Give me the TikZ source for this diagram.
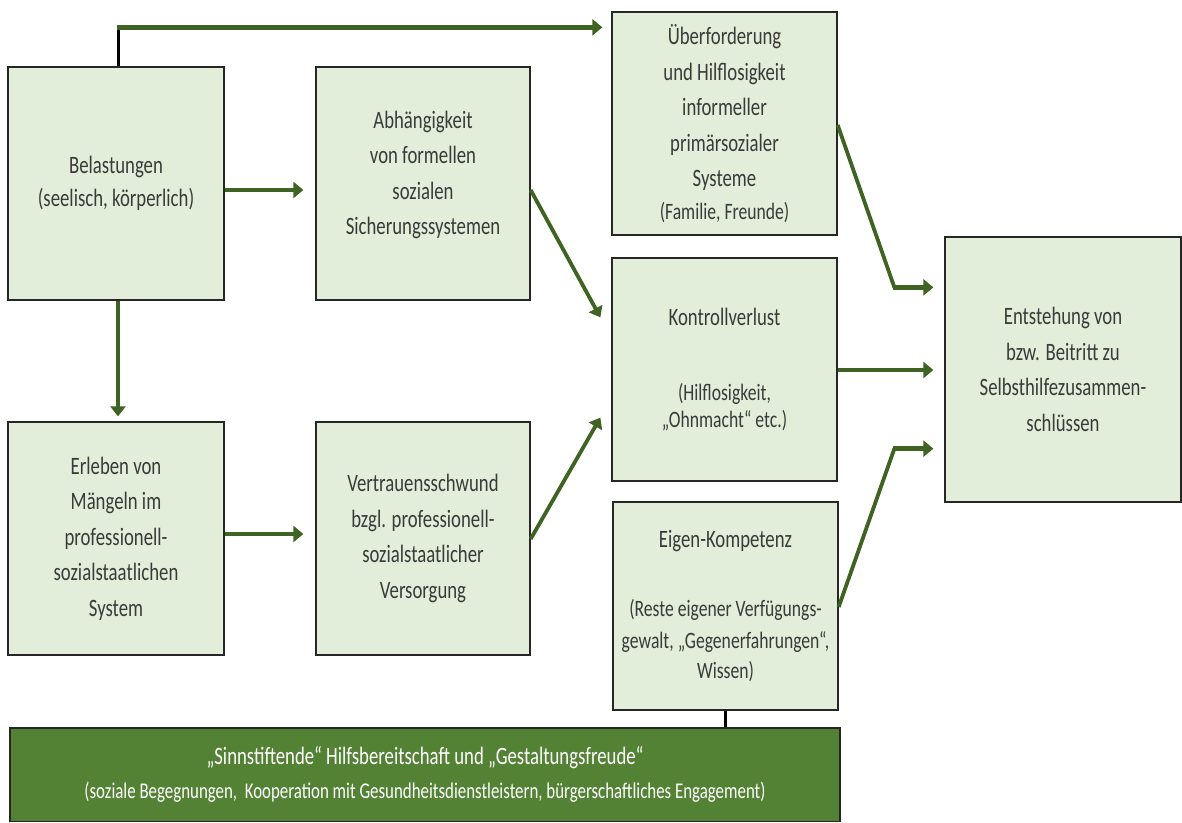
\documentclass[tikz,border=0pt]{standalone}
\usepackage{fontspec}
\setmainfont{Carlito}[FakeStretch=0.75]
\usetikzlibrary{arrows.meta,calc}
\definecolor{boxfill}{HTML}{E2EED9}
\definecolor{arrgreen}{HTML}{3F6322}
\definecolor{barfill}{HTML}{548235}
\definecolor{txt}{HTML}{3A3A3A}
\newcommand{\smf}{\fontsize{23.5}{28}\selectfont}
\tikzset{
  box/.style={draw=black!85, line width=1.3pt, fill=boxfill, text=txt, align=center,
    inner sep=0pt, font=\fontsize{25}{35.5}\selectfont},
  bar/.style={draw=black!85, line width=1.3pt, fill=barfill, text=white, align=center,
    inner sep=0pt, font=\fontsize{25}{35}\selectfont},
  arr/.style={draw=arrgreen, line width=4.5pt, -{Triangle[length=10pt,width=16pt]}},
  thinarr/.style={draw=arrgreen, line width=3.8pt, -{Triangle[length=10pt,width=15pt]}},
  seg/.style={draw=arrgreen, line width=3.8pt},
  blk/.style={draw=black, line width=3pt},
}
\begin{document}
\begin{tikzpicture}[x=1pt,y=-1pt]
\useasboundingbox (0,0) rectangle (1182,822);

\node[box, minimum width=216, minimum height=233] (bel) at (116,183.5)
  {Belastungen\\[-2pt](seelisch, körperlich)};
\node[box, minimum width=214, minimum height=233] (abh) at (423,183.5)
  {Abhängigkeit\\von formellen\\sozialen\\Sicherungssystemen\\[-14pt]~};
\node[box, minimum width=225, minimum height=223] (uf) at (724.5,123.5)
  {Überforderung\\und Hilflosigkeit\\informeller\\primärsozialer\\Systeme\\[-3pt]{\smf (Familie, Freunde)}};
\node[box, minimum width=225, minimum height=223] (kv) at (724.5,369.5)
  {Kontrollverlust\\[40pt]{\smf (Hilflosigkeit,}\\[-9pt]{\smf „Ohnmacht“ etc.)}};
\node[box, minimum width=225, minimum height=208] (ek) at (725.5,606)
  {Eigen-Kompetenz\\[34pt]{\smf (Reste eigener Verfügungs-}\\[-4pt]{\smf gewalt, „Gegenerfahrungen“,}\\[-5pt]{\smf Wissen)}};
\node[box, minimum width=236, minimum height=265] (ent) at (1063,369.5)
  {Entstehung von\\bzw. Beitritt zu\\Selbsthilfezusammen-\\schlüssen};
\node[box, minimum width=216, minimum height=233] (erl) at (116,538.5)
  {Erleben von\\Mängeln im\\professionell-\\sozialstaatlichen\\System};
\node[box, minimum width=214, minimum height=233] (vs) at (423,538.5)
  {Vertrauensschwund\\bzgl. professionell-\\sozialstaatlicher\\Versorgung};
\node[bar, minimum width=830, minimum height=93.5] (bar) at (425,774.75)
  {„Sinnstiftende“ Hilfsbereitschaft und „Gestaltungsfreude“\\[-1pt]
   {\fontsize{22.5}{26}\selectfont (soziale Begegnungen,\ \ Kooperation mit Gesundheitsdienstleistern, bürgerschaftliches Engagement)}};

% top connector
\coordinate (topc) at ($(bel.north)+(2,-39)$);
\draw[blk] (bel.north -| topc) -- (topc);
\draw[arr, shorten >=9pt] ([xshift=-1.5pt]topc) -- (topc -| uf.west);

% Belastungen -> Abhaengigkeit
\draw[arr, shorten >=12pt] ([yshift=-6.5pt]bel.east) -- ([yshift=-6.5pt]abh.west);
% Belastungen -> Erleben
\draw[thinarr, shorten >=5pt] (bel.south -| topc) -- (erl.north -| topc);
% Erleben -> Vertrauensschwund
\draw[arr, shorten >=12pt] ([yshift=4.5pt]erl.east) -- ([yshift=4.5pt]vs.west);
% Abhaengigkeit -> Kontrollverlust
\draw[thinarr] ([yshift=-6.5pt]abh.east) -- ($(kv.north west)+(-11,60)$);
% Vertrauensschwund -> Kontrollverlust
\draw[thinarr] ([yshift=-0.5pt]vs.east) -- ($(kv.south west)+(-11,-64)$);

% to Entstehung
\draw[seg] ([yshift=-1.5pt]uf.east) -- ($(ent.north west)+(-50,51)$);
\draw[arr] ($(ent.north west)+(-51.5,51)$) -- ($(ent.north west)+(-11,51)$);
\draw[arr, shorten >=11pt] ([yshift=-0.5pt]kv.east) -- ([yshift=-0.5pt]kv.east -| ent.west);
\draw[seg] ([yshift=-1pt]ek.east) -- ($(ent.south west)+(-50,-54)$);
\draw[arr] ($(ent.south west)+(-51.5,-54)$) -- ($(ent.south west)+(-11,-54)$);

% Eigen-Kompetenz -- bar
\draw[blk] (ek.south) -- (ek.south |- bar.north);
\end{tikzpicture}
\end{document}
